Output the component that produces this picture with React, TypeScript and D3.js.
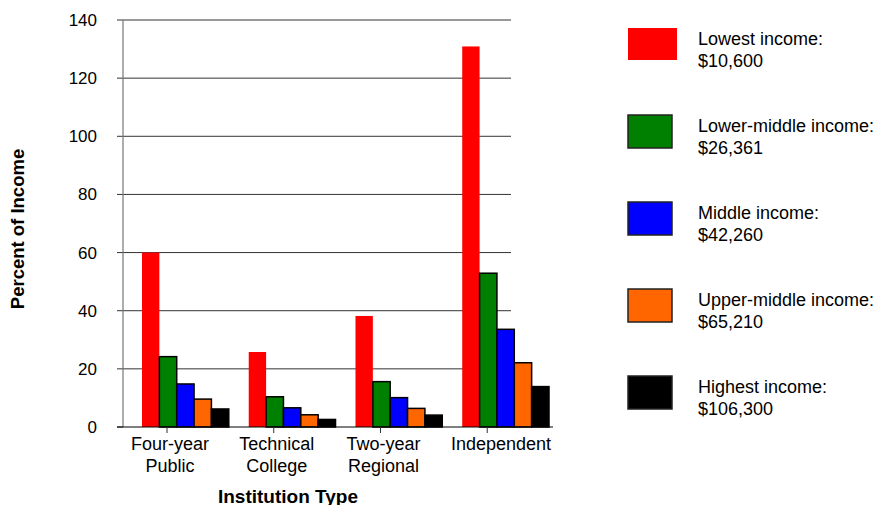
import React from "react";
import * as d3 from "d3";

const categories = ["Four-year Public", "Technical College", "Two-year Regional", "Independent"];
const categoryLines = [["Four-year", "Public"], ["Technical", "College"], ["Two-year", "Regional"], ["Independent"]];
const seriesNames = ["Lowest income:", "Lower-middle income:", "Middle income:", "Upper-middle income:", "Highest income:"];
const seriesIncome = ["$10,600", "$26,361", "$42,260", "$65,210", "$106,300"];
const seriesColors = ["#FF0000", "#008000", "#0000FF", "#FF6600", "#000000"];
const lowest = [60.0, 25.8, 38.2, 130.9];
const lowerMiddle = [24.2, 10.4, 15.6, 52.9];
const middle = [14.8, 6.6, 10.1, 33.6];
const upperMiddle = [9.6, 4.2, 6.4, 22.1];
const highest = [6.2, 2.6, 4.1, 13.9];
const yTicks = [0, 20, 40, 60, 80, 100, 120, 140];

const seriesValues = [lowest, lowerMiddle, middle, upperMiddle, highest];

const W = 884;
const H = 505;
const FONT = "'Liberation Sans', Arial, Helvetica, sans-serif";

export default function App() {
  const axisX = 123;
  const gridEnd = 511;
  const baseEnd = 553;
  const y = d3.scaleLinear().domain([0, 140]).range([427, 20]);
  const x = d3.scaleBand<string>().domain(categories).range([142, 549]).paddingInner(0.187).paddingOuter(0);
  const inner = d3.scaleBand<number>().domain(d3.range(seriesNames.length)).range([0, x.bandwidth()]);
  const tickPos = (c: string) => (x(c) as number) + 25;

  const legendY = d3.scalePoint<number>().domain(d3.range(seriesNames.length)).range([28, 376]);

  return (
    <div style={{ position: "absolute", left: 0, top: 0 }}>
      <svg width={W} height={H} style={{ display: "block", background: "#fff", fontFamily: FONT }}>
        {yTicks.filter((t) => t > 0).map((t) => (
          <line key={"g" + t} x1={axisX} x2={gridEnd} y1={y(t)} y2={y(t)} stroke="#333" strokeWidth={1} />
        ))}
        {yTicks.map((t) => (
          <g key={"t" + t}>
            <line x1={117} x2={axisX} y1={y(t)} y2={y(t)} stroke="#333" strokeWidth={1} />
            <text x={97} y={y(t)} dy="0.35em" textAnchor="end" fontSize={17} fill="#000">
              {t}
            </text>
          </g>
        ))}
        {categories.map((c, ci) => (
          <g key={c}>
            {seriesValues.map((vals, si) => {
              const bx = (x(c) as number) + (inner(si) as number);
              const by = y(vals[ci]);
              return (
                <rect
                  key={si}
                  x={bx}
                  y={by}
                  width={inner.bandwidth()}
                  height={y(0) - by}
                  fill={seriesColors[si]}
                  stroke={si === 0 ? "none" : "#000"}
                  strokeWidth={si === 0 ? 0 : 1.5}
                />
              );
            })}
          </g>
        ))}
        <line x1={axisX} x2={axisX} y1={y(140)} y2={y(0)} stroke="#777" strokeWidth={1.2} />
        <line x1={117} x2={baseEnd} y1={y(0)} y2={y(0)} stroke="#000" strokeWidth={1} />
        {categories.map((c, ci) => (
          <g key={"x" + c}>
            <line x1={tickPos(c)} x2={tickPos(c)} y1={y(0)} y2={y(0) + 6} stroke="#333" strokeWidth={1} />
            {categoryLines[ci].map((ln, li) => (
              <text
                key={li}
                x={ci === categories.length - 1 ? Math.min(tickPos(c) + 14, baseEnd - 52) : tickPos(c) + 3}
                y={450 + li * 21.5}
                textAnchor="middle"
                fontSize={18}
                fill="#000"
              >
                {ln}
              </text>
            ))}
          </g>
        ))}
        <text x={288} y={503} textAnchor="middle" fontSize={19} fontWeight="bold" fill="#000">
          Institution Type
        </text>
        <text transform={`translate(24,229) rotate(-90)`} textAnchor="middle" fontSize={18.5} fontWeight="bold" fill="#000">
          Percent of Income
        </text>
        {seriesNames.map((n, i) => {
          const ly = legendY(i) as number;
          return (
            <g key={"l" + i}>
              <rect
                x={628}
                y={ly}
                width={i === 0 ? 49 : 44}
                height={i === 0 ? 32 : 33}
                fill={seriesColors[i]}
                stroke={i === 0 ? "none" : "#222"}
                strokeWidth={i === 0 ? 0 : 1.5}
              />
              <text x={698} y={ly + 17} fontSize={18} fill="#000">
                {n}
              </text>
              <text x={698} y={ly + 38.5} fontSize={18} fill="#000">
                {seriesIncome[i]}
              </text>
            </g>
          );
        })}
      </svg>
    </div>
  );
}
